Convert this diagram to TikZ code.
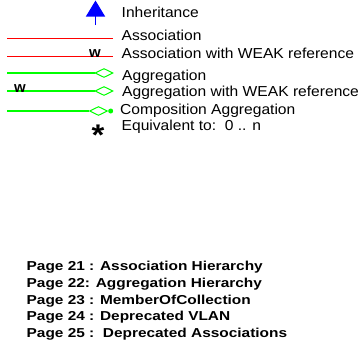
\documentclass[tikz,border=0pt]{standalone}
\usepackage{fontspec}
\setmainfont{Liberation Sans}
\usepackage{graphicx}
\usetikzlibrary{arrows.meta,shapes.geometric}
\definecolor{lgreen}{RGB}{0,255,0}
\newcommand\mytxt[1]{\scalebox{1.08}[1]{\fontsize{14.5}{16}\selectfont #1}}
\newcommand\mypage[1]{\scalebox{1.19}[1]{\fontsize{13}{15}\selectfont\bfseries #1}}
\tikzset{
  assocline/.style={draw=red, line width=1.3bp},
  aggrline/.style={draw=lgreen, line width=1.5bp},
  dia/.style={diamond, draw=lgreen, line width=1bp, minimum width=18bp, minimum height=9bp, inner sep=0pt},
  lbl/.style={anchor=base west, inner sep=0pt},
  wmark/.style={anchor=base, inner sep=0pt, font=\fontsize{15}{17}\selectfont\bfseries},
}
\begin{document}
\begin{tikzpicture}[x=1bp,y=-1bp]
\useasboundingbox (0,0) rectangle (360,347);
% inheritance
\coordinate (inhS) at (95.5,25);
\coordinate (inhE) at (95.5,0.5);
\draw[blue, line width=1.3bp, -{Triangle[width=19bp,length=16bp]}] (inhS) -- (inhE);
\node[lbl] (tInh) at (121.5,17.3) {\mytxt{Inheritance}};
% association
\coordinate (as1) at (7,38.5);
\coordinate (ae1) at (113,38.5);
\draw[assocline] (as1) -- (ae1);
\node[lbl] (tAs) at (121.5,40.7) {\mytxt{Association}};
% association weak
\coordinate (as2) at (7,56.5);
\coordinate (ae2) at (113,56.5);
\draw[assocline] (as2) -- (ae2);
\node[wmark] (w1) at (95,57.5) {w};
\node[lbl] (tAsW) at (121.5,58.3) {\mytxt{Association with WEAK reference}};
% aggregation
\coordinate (gs1) at (7,73);
\node[dia] (d1) at (104,73) {};
\draw[aggrline] (gs1) -- (d1.west);
\node[lbl] (tAg) at (122,80) {\mytxt{Aggregation}};
% aggregation weak
\coordinate (gs2) at (7,91);
\node[dia] (d2) at (104,91) {};
\draw[aggrline] (gs2) -- (d2.west);
\node[wmark] (w2) at (20,92.5) {w};
\node[lbl] (tAgW) at (122,96.7) {\mytxt{Aggregation with WEAK reference}};
% composition
\coordinate (cs1) at (7,111);
\node[dia] (d3) at (98.5,111) {};
\node[circle, fill=lgreen, minimum size=5bp, inner sep=0pt] (dot) at (110.7,111) {};
\draw[aggrline] (cs1) -- (d3.west);
\draw[aggrline] (d3.east) -- (dot);
\node[lbl] (tCo) at (120,114.3) {\mytxt{Composition Aggregation}};
% star
\node[anchor=base, inner sep=0pt] (star) at (98,145.5) {\scalebox{1.1}[1]{\fontsize{30}{32}\selectfont\bfseries *}};
\node[lbl] (tEq) at (121.5,130) {\mytxt{Equivalent to:\ \ 0 .. n}};
% pages
\node[lbl] (p1) at (26.5,270.7) {\mypage{Page 21 : Association Hierarchy}};
\node[lbl] (p2) at (26.5,287.3) {\mypage{Page 22: Aggregation Hierarchy}};
\node[lbl] (p3) at (26.5,304) {\mypage{Page 23 : MemberOfCollection}};
\node[lbl] (p4) at (26.5,320.7) {\mypage{Page 24 : Deprecated VLAN}};
\node[lbl] (p5) at (26.5,337) {\mypage{Page 25 :\ \ Deprecated Associations}};
\end{tikzpicture}
\end{document}
